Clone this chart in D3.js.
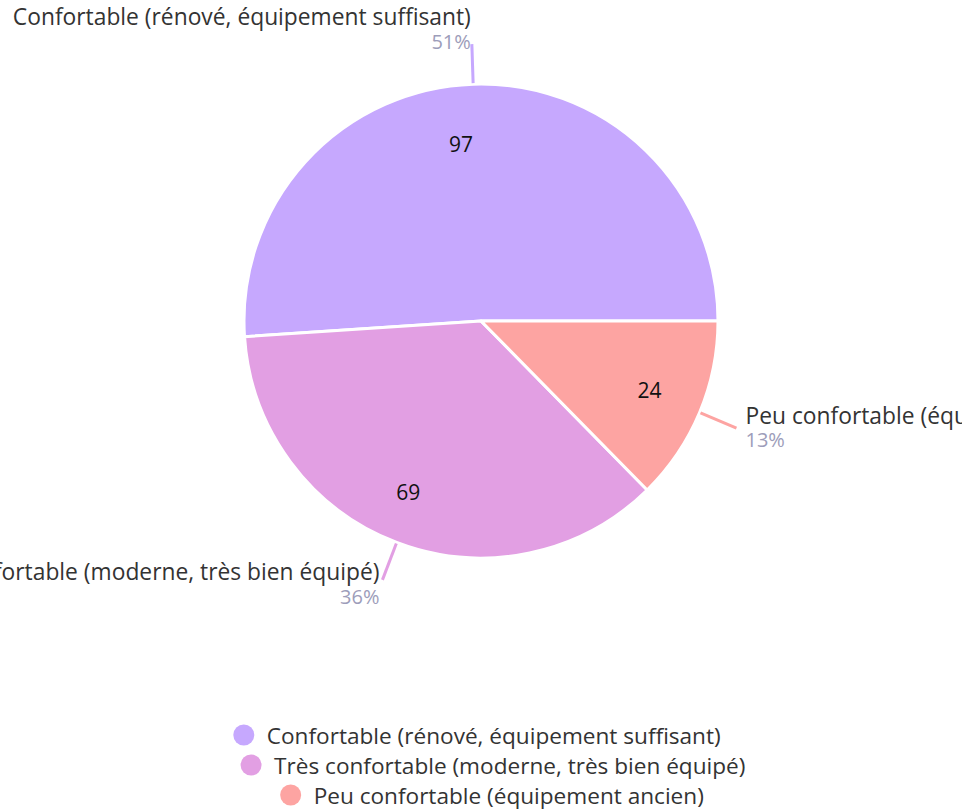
<!DOCTYPE html>
<html><head><meta charset="utf-8">
<script src="https://cdn.jsdelivr.net/npm/d3@7"></script>
<style>
html,body{margin:0;padding:0;background:#fff;}
svg{display:block;font-family:"Open Sans",sans-serif;}
</style></head>
<body><svg id="c" width="962" height="809"></svg>
<script>
const categories = ["Confortable (rénové, équipement suffisant)", "Très confortable (moderne, très bien équipé)", "Peu confortable (équipement ancien)"];
const values = [97, 69, 24];
const colors = ["#c6a8fe", "#e29fe3", "#fda4a2"];

const svg = d3.select("#c");
const cx = 481, cy = 321, R = 237;
const total = d3.sum(values);

const pie = d3.pie().sort(null).value(d => d)
  .startAngle(Math.PI/2).endAngle(Math.PI/2 - 2*Math.PI);
const arcs = pie(values);
const arc = d3.arc().innerRadius(0).outerRadius(R);
const g = svg.append("g").attr("transform", `translate(${cx},${cy})`);

g.selectAll("path.slice").data(arcs).join("path")
  .attr("class","slice")
  .attr("d", arc)
  .attr("fill", (d,i) => colors[i])
  .attr("stroke", "#fff").attr("stroke-width", 3).attr("stroke-linejoin","round");

// value labels
const valArc = d3.arc().innerRadius(R*0.78).outerRadius(R*0.78);
const valOffsets = [[-14,8],[-7,-2],[-2,-2]];
g.selectAll("text.val").data(arcs).join("text")
  .attr("class","val")
  .attr("x", (d,i) => valArc.centroid(d)[0] + valOffsets[i][0])
  .attr("y", (d,i) => valArc.centroid(d)[1] + valOffsets[i][1])
  .attr("text-anchor","middle").attr("dominant-baseline","central")
  .attr("font-size", 21).attr("fill", "#111")
  .text(d => d.value);

// leader lines
function midA(d){ return (d.startAngle + d.endAngle)/2; }
function pt(a, r){ return [r*Math.sin(a), -r*Math.cos(a)]; }
g.selectAll("line.lead").data(arcs).join("line")
  .attr("class","lead")
  .attr("x1", d => pt(midA(d), R+1)[0]).attr("y1", d => pt(midA(d), R+1)[1])
  .attr("x2", d => pt(midA(d), R+40)[0]).attr("y2", d => pt(midA(d), R+40)[1])
  .attr("stroke", (d,i) => colors[i]).attr("stroke-width", 3);

// outer labels: [dx, anchor, nameDy, pctDy]
const labelStyle = [[-1,"end",-28,-3],[-3,"end",-8,17],[9,"start",-13,11]];
arcs.forEach((d,i) => {
  const e = pt(midA(d), R+40);
  const s = labelStyle[i];
  g.append("text").attr("x", e[0]+s[0]).attr("y", e[1]+s[2])
    .attr("text-anchor", s[1]).attr("dominant-baseline","central")
    .attr("font-size", 22.8).attr("fill", "#333").text(categories[i]);
  g.append("text").attr("x", e[0]+s[0]).attr("y", e[1]+s[3])
    .attr("text-anchor", s[1]).attr("dominant-baseline","central")
    .attr("font-size", 20).attr("fill", "#9d9dba")
    .text(Math.round(d.value/total*100) + "%");
});

// legend
const legY = [735, 765, 795];
const legCenter = [477, 493, 492];
categories.forEach((c,i) => {
  const lg = svg.append("g");
  const t = lg.append("text").attr("x", 23).attr("y", legY[i])
    .attr("dominant-baseline","central").attr("font-size", 22.6).attr("fill","#333").text(c);
  lg.append("circle").attr("cx", 0).attr("cy", legY[i]).attr("r", 10.5).attr("fill", colors[i]);
  const w = 23 + t.node().getComputedTextLength() + 10.5;
  lg.attr("transform", `translate(${legCenter[i] - w/2 + 10.5},0)`);
});
</script></body></html>
